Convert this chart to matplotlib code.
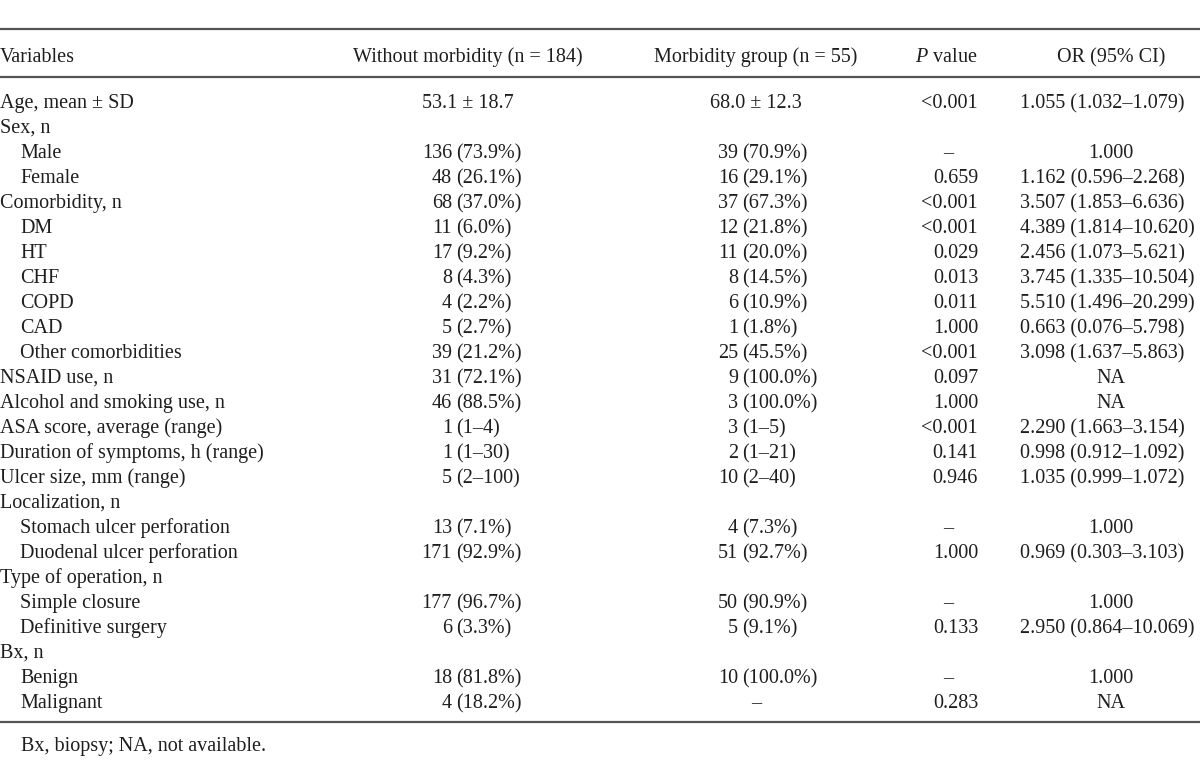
import matplotlib
matplotlib.use('Agg')
import matplotlib.pyplot as plt

# table content
variables = ['Age, mean \u00b1 SD', 'Sex, n', 'Male', 'Female', 'Comorbidity, n', 'DM', 'HT', 'CHF',
             'COPD', 'CAD', 'Other comorbidities', 'NSAID use, n', 'Alcohol and smoking use, n',
             'ASA score, average (range)', 'Duration of symptoms, h (range)', 'Ulcer size, mm (range)',
             'Localization, n', 'Stomach ulcer perforation', 'Duodenal ulcer perforation',
             'Type of operation, n', 'Simple closure', 'Definitive surgery', 'Bx, n', 'Benign', 'Malignant']
indent = [0, 0, 1, 1, 0, 1, 1, 1, 1, 1, 1, 0, 0, 0, 0, 0, 0, 1, 1, 0, 1, 1, 0, 1, 1]
without_morb = ['53.1 \u00b1 18.7', '', '136 (73.9%)', '48 (26.1%)', '68 (37.0%)', '11 (6.0%)',
                '17 (9.2%)', '8 (4.3%)', '4 (2.2%)', '5 (2.7%)', '39 (21.2%)', '31 (72.1%)',
                '46 (88.5%)', '1 (1\u20134)', '1 (1\u201330)', '5 (2\u2013100)', '', '13 (7.1%)',
                '171 (92.9%)', '', '177 (96.7%)', '6 (3.3%)', '', '18 (81.8%)', '4 (18.2%)']
morb_group = ['68.0 \u00b1 12.3', '', '39 (70.9%)', '16 (29.1%)', '37 (67.3%)', '12 (21.8%)',
              '11 (20.0%)', '8 (14.5%)', '6 (10.9%)', '1 (1.8%)', '25 (45.5%)', '9 (100.0%)',
              '3 (100.0%)', '3 (1\u20135)', '2 (1\u201321)', '10 (2\u201340)', '', '4 (7.3%)',
              '51 (92.7%)', '', '50 (90.9%)', '5 (9.1%)', '', '10 (100.0%)', '\u2013']
p_values = ['<0.001', '', '\u2013', '0.659', '<0.001', '<0.001', '0.029', '0.013', '0.011', '1.000',
            '<0.001', '0.097', '1.000', '<0.001', '0.141', '0.946', '', '\u2013', '1.000', '',
            '\u2013', '0.133', '', '\u2013', '0.283']
odds_ratio = ['1.055 (1.032\u20131.079)', '', '1.000', '1.162 (0.596\u20132.268)',
              '3.507 (1.853\u20136.636)', '4.389 (1.814\u201310.620)', '2.456 (1.073\u20135.621)',
              '3.745 (1.335\u201310.504)', '5.510 (1.496\u201320.299)', '0.663 (0.076\u20135.798)',
              '3.098 (1.637\u20135.863)', 'NA', 'NA', '2.290 (1.663\u20133.154)',
              '0.998 (0.912\u20131.092)', '1.035 (0.999\u20131.072)', '', '1.000',
              '0.969 (0.303\u20133.103)', '', '1.000', '2.950 (0.864\u201310.069)', '', '1.000', 'NA']
footnote = 'Bx, biopsy; NA, not available.'

plt.rcParams['font.family'] = ['Liberation Serif', 'DejaVu Serif']
plt.rcParams['mathtext.fontset'] = 'custom'
plt.rcParams['mathtext.it'] = 'Liberation Serif:italic'
plt.rcParams['mathtext.rm'] = 'Liberation Serif'
fs = 14.5
col = '#1e1e1e'
base = 6  # baseline offset below row centre, px

fig = plt.figure(figsize=(12, 7.7), dpi=100)
ax = fig.add_axes([0, 0, 1, 1])
ax.set_xlim(0, 1200)
ax.set_ylim(770, 0)
ax.axis('off')


def txt(x, y, s, ha='left', **kw):
    ax.text(x, y + base, s, ha=ha, va='baseline', fontsize=fs, color=col, **kw)


def split_cell(s, x_paren, y, center_x):
    # numbers aligned on the opening parenthesis
    if ' (' in s:
        a, b = s.split(' (', 1)
        txt(x_paren - 4, y, a, ha='right')
        txt(x_paren, y, '(' + b)
    elif s:
        txt(center_x, y, s, ha='center')


# rules
for yl in [29, 77, 722]:
    ax.plot([0, 1200], [yl, yl], color='#555555', lw=1.6, solid_capstyle='butt')

# header
hy = 56
txt(0, hy, 'Variables')
txt(468, hy, 'Without morbidity (n = 184)', ha='center')
txt(756, hy, 'Morbidity group (n = 55)', ha='center')
txt(946, hy, r'$\mathit{P}$ value', ha='center')
txt(1111, hy, 'OR (95% CI)', ha='center')

for i, name in enumerate(variables):
    y = 102 + 25 * i
    txt(20 if indent[i] else 0, y, name)
    split_cell(without_morb[i], 456, y, 468)
    split_cell(morb_group[i], 742, y, 756)
    p = p_values[i]
    if p == '\u2013':
        txt(948, y, p, ha='center')
    elif p:
        txt(978, y, p, ha='right')
    o = odds_ratio[i]
    if ' (' in o:
        txt(1020, y, o)
    elif o:
        txt(1111, y, o, ha='center')

txt(21, 745, footnote)

fig.savefig('out.png', dpi=100, facecolor='white')
